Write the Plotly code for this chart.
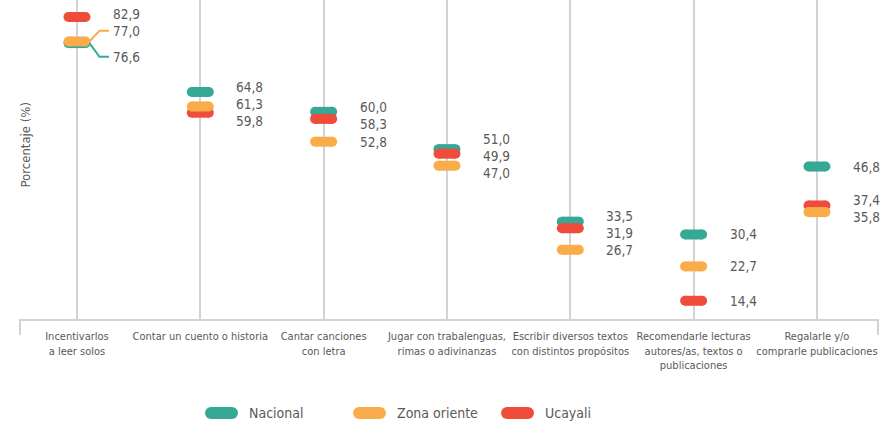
import plotly.graph_objects as go

# ---------------- data ----------------
categories = [
    "Incentivarlos<br>a leer solos",
    "Contar un cuento o historia",
    "Cantar canciones<br>con letra",
    "Jugar con trabalenguas,<br>rimas o adivinanzas",
    "Escribir diversos textos<br>con distintos propósitos",
    "Recomendarle lecturas<br>autores/as, textos o<br>publicaciones",
    "Regalarle y/o<br>comprarle publicaciones",
]
series_names = ["Nacional", "Zona oriente", "Ucayali"]
nacional = [76.6, 64.8, 60.0, 51.0, 33.5, 30.4, 46.8]
zona_oriente = [77.0, 61.3, 52.8, 47.0, 26.7, 22.7, 35.8]
ucayali = [82.9, 59.8, 58.3, 49.9, 31.9, 14.4, 37.4]
series_values = [nacional, zona_oriente, ucayali]
colors = ["#35a896", "#faac4a", "#ef4c3c"]
y_title = "Porcentaje (%)"

# ---------------- geometry / style ----------------
W, H = 883, 425
ML, MR, MT, MB = 20, 5, 0, 106
PW, PH = W - ML - MR, H - MT - MB
XR = [-0.462, 6.495]
YR = [10.0, 87.0]
PXX = PW / (XR[1] - XR[0])
PXY = PH / (YR[1] - YR[0])
FONT = "DejaVu Sans Condensed, Roboto, sans-serif"
TXT = "#595959"
GRID = "#d3d3d3"
PILL_W, PILL_H = 27, 10
HALF_STRAIGHT = (PILL_W - PILL_H) / 2 / PXX

fig = go.Figure()

# draw order: Nacional, Ucayali, Zona oriente (orange on top)
order = [0, 2, 1]
for s in order:
    xs, ys = [], []
    for i, v in enumerate(series_values[s]):
        xs += [i - HALF_STRAIGHT, i + HALF_STRAIGHT, None]
        ys += [v, v, None]
    fig.add_trace(go.Scatter(
        x=xs, y=ys, mode="lines+markers", name=series_names[s],
        line=dict(color=colors[s], width=PILL_H),
        marker=dict(color=colors[s], size=PILL_H, line=dict(width=0)),
        showlegend=False, hoverinfo="skip", cliponaxis=False,
    ))

# ---------------- value labels with collision avoidance ----------------
annotations = []
for i in range(len(categories)):
    items = []
    for s in range(len(series_names)):
        v = series_values[s][i]
        items.append([(YR[1] - v) * PXY, v, s])
    items.sort(key=lambda t: t[0])
    py = [t[0] for t in items]
    merged = [abs(py[k + 1] - py[k]) < 4 for k in range(len(py) - 1)]
    gaps = [26 if m else 17 for m in merged]
    ly = py[:]
    for _ in range(300):
        for k in range(len(ly) - 1):
            d = ly[k + 1] - ly[k]
            if d < gaps[k]:
                o = gaps[k] - d
                ly[k] -= o / 2
                ly[k + 1] += o / 2
    for k, (p, v, s) in enumerate(items):
        annotations.append(dict(
            x=i, y=v, xref="x", yref="y", text=f"{v:.1f}".replace(".", ","),
            showarrow=False, xanchor="left", yanchor="middle",
            xshift=34, yshift=p - ly[k],
            font=dict(family=FONT, size=13.5, color=TXT),
        ))
        in_merged = (k > 0 and merged[k - 1]) or (k < len(merged) and merged[k])
        if in_merged:
            pts_px = [(PILL_W / 2 - 1, p), (PILL_W / 2 + 9, ly[k]), (32, ly[k])]
            fig.add_trace(go.Scatter(
                x=[i + dx / PXX for dx, _ in pts_px],
                y=[YR[1] - dy / PXY for _, dy in pts_px],
                mode="lines", line=dict(color=colors[s], width=2),
                showlegend=False, hoverinfo="skip", cliponaxis=False,
            ))

# y-axis title
annotations.append(dict(
    x=(15 - ML) / PW, y=(PH - 145) / PH, xref="paper", yref="paper",
    text=y_title, textangle=-90, showarrow=False,
    font=dict(family=FONT, size=13, color=TXT),
))

# ---------------- custom legend ----------------
shapes = []
leg_y = (PH - 413) / PH
leg_x0 = 205
leg_step = 148
for s, name in enumerate(series_names):
    cx = leg_x0 + s * leg_step
    xa = (cx - ML) / PW
    lw, lh = 33, 12
    shapes.append(dict(type="rect", xref="paper", yref="paper",
                       xsizemode="pixel", ysizemode="pixel",
                       xanchor=xa, yanchor=leg_y,
                       x0=lh / 2, x1=lw - lh / 2, y0=-lh / 2, y1=lh / 2,
                       fillcolor=colors[s], line=dict(width=0)))
    for cxx in (lh / 2, lw - lh / 2):
        shapes.append(dict(type="circle", xref="paper", yref="paper",
                           xsizemode="pixel", ysizemode="pixel",
                           xanchor=xa, yanchor=leg_y,
                           x0=cxx - lh / 2, x1=cxx + lh / 2, y0=-lh / 2, y1=lh / 2,
                           fillcolor=colors[s], line=dict(width=0)))
    annotations.append(dict(
        x=(cx + lw + 9 - ML) / PW, y=leg_y, xref="paper", yref="paper",
        text=name, showarrow=False, xanchor="left", yanchor="middle",
        font=dict(family=FONT, size=14, color=TXT),
    ))

# bracket ends of the x axis
for xp in (0, 1):
    shapes.append(dict(type="line", xref="paper", yref="paper",
                       x0=xp, x1=xp, y0=0, y1=-16 / PH,
                       line=dict(color=GRID, width=2)))

fig.update_layout(
    width=W, height=H,
    margin=dict(l=ML, r=MR, t=MT, b=MB, autoexpand=False),
    paper_bgcolor="white", plot_bgcolor="white",
    showlegend=False,
    annotations=annotations, shapes=shapes,
    xaxis=dict(
        range=XR, tickmode="array", tickvals=list(range(len(categories))),
        ticktext=categories, showgrid=True, gridcolor=GRID, gridwidth=2,
        showline=True, linecolor=GRID, linewidth=2, zeroline=False,
        ticks="outside", ticklen=6, tickcolor="rgba(0,0,0,0)",
        tickangle=0, automargin=False,
        tickfont=dict(family=FONT, size=11, color=TXT),
        fixedrange=True,
    ),
    yaxis=dict(
        range=YR, showgrid=False, showticklabels=False, zeroline=False,
        showline=False, ticks="", fixedrange=True, automargin=False,
    ),
)

fig.write_html(
    "out.html",
    config={"displayModeBar": False},
    post_script="document.body.style.margin='0';document.body.style.padding='0';"
                "document.body.style.overflow='hidden';",
)
